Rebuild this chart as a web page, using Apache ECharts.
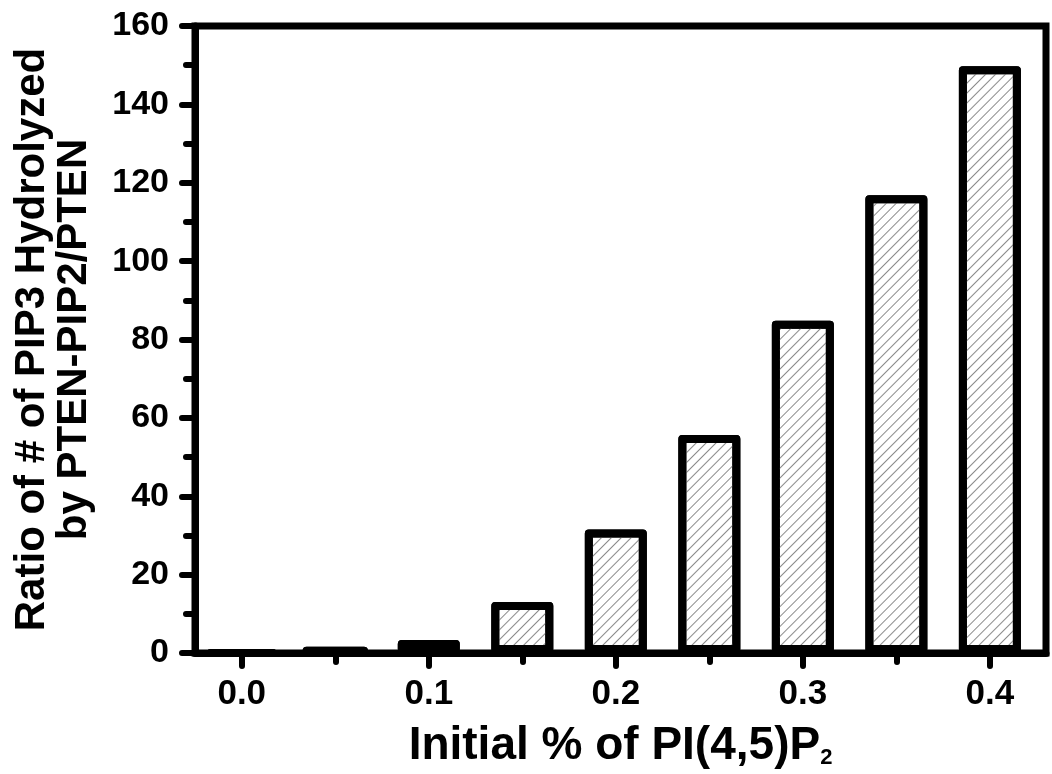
<!DOCTYPE html>
<html>
<head>
<meta charset="utf-8">
<script src="https://cdn.jsdelivr.net/npm/echarts@6/dist/echarts.min.js"></script>
<style>
  html, body { margin: 0; padding: 0; background: #fff; }
  #chart { width: 1052px; height: 774px; }
</style>
</head>
<body>
<div id="chart"></div>
<script>
  // initial fraction of PI(4,5)P2
  var pip2Fraction = [0, 0.05, 0.1, 0.15, 0.2, 0.25, 0.3, 0.35, 0.4];
  // ratio of # of PIP3 hydrolyzed
  var hydrolyzedRatio = [0, 1.2, 3.3, 13.0, 31.5, 55.6, 84.8, 116.8, 149.7];
  var xMajorTicks = [0, 0.1, 0.2, 0.3, 0.4];
  var xMinorTicks = [0.05, 0.15, 0.25, 0.35];

  var barData = pip2Fraction.map(function (x, i) { return [x, hydrolyzedRatio[i]]; });

  var font = '"Liberation Sans", Arial, sans-serif';
  var chart = echarts.init(document.getElementById('chart'));

  chart.setOption({
    backgroundColor: '#fff',
    animation: false,
    grid: {
      left: 195, right: 6, top: 26, bottom: 118,
      show: true, borderColor: '#000', borderWidth: 7
    },
    xAxis: [
      {
        type: 'value',
        min: -0.025,
        max: 0.43,
        name: 'Initial % of PI(4,5)P{sub|2}',
        nameLocation: 'middle',
        nameGap: 70,
        nameTextStyle: {
          fontFamily: font, fontWeight: 'bold', fontSize: 46, color: '#000',
          rich: { sub: { fontFamily: font, fontWeight: 'bold', fontSize: 22, color: '#000', verticalAlign: 'bottom' } }
        },
        axisLine: { show: true, onZero: false, lineStyle: { color: '#000', width: 7 } },
        axisTick: { show: true, customValues: xMajorTicks, length: 13, lineStyle: { color: '#000', width: 6, cap: 'round' } },
        axisLabel: {
          customValues: xMajorTicks,
          margin: 24,
          fontFamily: font, fontWeight: 'bold', fontSize: 35, color: '#000',
          formatter: function (v) { return v.toFixed(1); }
        },
        splitLine: { show: false }
      },
      {
        type: 'value',
        min: -0.025,
        max: 0.43,
        position: 'bottom',
        offset: 0,
        axisLine: { show: false, onZero: false },
        axisTick: { show: true, customValues: xMinorTicks, length: 9, lineStyle: { color: '#000', width: 6, cap: 'round' } },
        axisLabel: { show: false },
        splitLine: { show: false }
      }
    ],
    yAxis: {
      type: 'value',
      min: 0,
      max: 160,
      interval: 20,
      name: 'Ratio of # of PIP3 Hydrolyzed\nby PTEN-PIP2/PTEN',
      nameLocation: 'middle',
      nameGap: 100,
      nameTextStyle: { fontFamily: font, fontWeight: 'bold', fontSize: 42, lineHeight: 42, color: '#000' },
      axisLine: { show: true, onZero: false, lineStyle: { color: '#000', width: 7 } },
      axisTick: { show: true, length: 13, lineStyle: { color: '#000', width: 6, cap: 'round' } },
      minorTick: { show: true, splitNumber: 2, length: 9, lineStyle: { color: '#000', width: 6, cap: 'round' } },
      axisLabel: { margin: 26, fontFamily: font, fontWeight: 'bold', fontSize: 34, color: '#000' },
      splitLine: { show: false }
    },
    series: [{
      type: 'bar',
      xAxisIndex: 0,
      data: barData,
      barWidth: 62,
      itemStyle: {
        color: '#fff',
        borderColor: '#000',
        borderWidth: 8,
        borderJoin: 'round',
        decal: {
          symbol: 'rect',
          symbolSize: 1,
          color: '#8a8a8a',
          dashArrayX: [1, 0],
          dashArrayY: [1, 6],
          rotation: -Math.PI / 4
        }
      }
    }]
  });
</script>
</body>
</html>
